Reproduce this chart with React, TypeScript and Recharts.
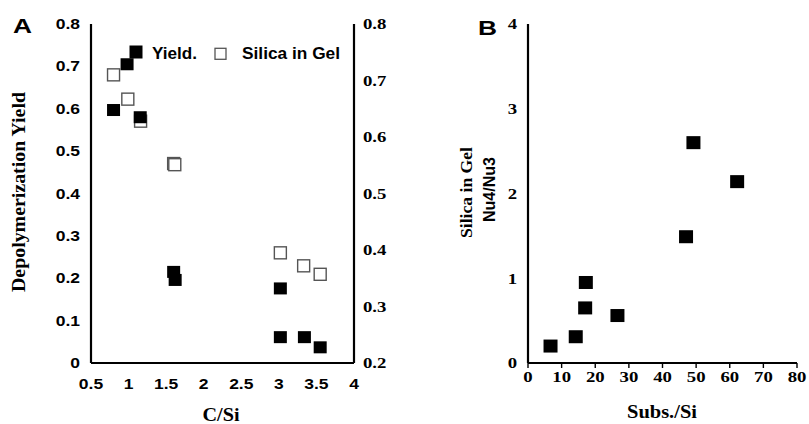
import { ScatterChart, Scatter, XAxis, YAxis, Legend } from "recharts"

// panel A: C/Si vs depolymerization yield (left) and silica in gel (right)
const yieldCS = [0.8, 0.98, 1.155, 1.6, 1.62, 3.02, 3.02, 3.34, 3.55]
const yieldVal = [0.597, 0.705, 0.58, 0.215, 0.196, 0.176, 0.061, 0.061, 0.037]
const silicaCS = [0.8, 0.99, 1.16, 1.6, 1.615, 3.02, 3.33, 3.55]
const silicaVal = [0.71, 0.667, 0.628, 0.553, 0.551, 0.395, 0.372, 0.357]

// panel B: Subs./Si vs Nu4/Nu3
const subsSi = [6.7, 14.2, 17.0, 17.2, 26.6, 47.0, 49.2, 62.2]
const nuRatio = [0.2, 0.31, 0.65, 0.95, 0.56, 1.49, 2.6, 2.14]

const csTicks = [0.5, 1, 1.5, 2, 2.5, 3, 3.5, 4]
const yieldTicks = [0, 0.1, 0.2, 0.3, 0.4, 0.5, 0.6, 0.7, 0.8]
const silicaTicks = [0.2, 0.3, 0.4, 0.5, 0.6, 0.7, 0.8]
const subsTicks = [0, 10, 20, 30, 40, 50, 60, 70, 80]
const nuTicks = [0, 1, 2, 3, 4]

const ARIAL = "Liberation Sans, Arial, sans-serif"
const TIMES = "Liberation Serif, Times New Roman, serif"

const yieldData = yieldCS.map((x, i) => ({ x, y: yieldVal[i] }))
const silicaData = silicaCS.map((x, i) => ({ x, y: silicaVal[i] }))
const nuData = subsSi.map((x, i) => ({ x, y: nuRatio[i] }))

const bold = (font: string, size: number) => ({ fontFamily: font, fontWeight: 700, fontSize: size, fill: "#000" })

function tick(font: string, size: number, anchor: "start" | "middle" | "end") {
  return (props: any) => {
    const { x, y, payload } = props
    return (
      <g transform={`translate(${x},${y}) scale(1.25,1)`}>
        <text x={0} y={0} dy="0.36em" textAnchor={anchor} fontFamily={font} fontWeight={700} fontSize={size} fill="#000" style={bold(font, size)}>
          {String(payload.value)}
        </text>
      </g>
    )
  }
}

const filledA = (p: any) => <rect x={p.cx - 6.5} y={p.cy - 6} width={13} height={12} fill="#000" />
const openA = (p: any) => <rect x={p.cx - 6} y={p.cy - 6} width={12} height={12} fill="#fff" stroke="#555" strokeWidth={1.4} />
const filledB = (p: any) => <rect x={p.cx - 7} y={p.cy - 6.5} width={14} height={13} fill="#000" />

function LegendA() {
  return (
    <svg width={400} height={80} style={{ display: "block" }}>
      <rect x={129.5} y={45.5} width={13} height={13} fill="#000" />
      <text x={152} y={58.5} style={bold(ARIAL, 16)} textLength={45} lengthAdjust="spacingAndGlyphs">Yield.</text>
      <rect x={215} y={48.3} width={11} height={11} fill="#fff" stroke="#555" strokeWidth={1.3} />
      <text x={242} y={58.5} style={bold(ARIAL, 16)} textLength={98} lengthAdjust="spacingAndGlyphs">Silica in Gel</text>
    </svg>
  )
}

const boxLine = { stroke: "#000", strokeWidth: 2.2 }
const greyLine = { stroke: "#333", strokeWidth: 2 }

export default function App() {
  return (
    <div style={{ position: "absolute", left: 0, top: 0, width: 809, height: 424, background: "#fff", overflow: "hidden" }}>
      <div style={{ position: "absolute", left: 0, top: 0 }}>
        <ScatterChart width={400} height={424} margin={{ top: 24, right: 6, bottom: 31, left: 41 }}>
          <XAxis type="number" dataKey="x" domain={[0.5, 4]} ticks={csTicks} allowDataOverflow height={30}
            axisLine={boxLine} tickLine={false} tickSize={0} tickMargin={21}
            tick={tick(ARIAL, 14, "middle")} />
          <XAxis xAxisId="top" orientation="top" type="number" domain={[0.5, 4]} height={0}
            axisLine={boxLine} tickLine={false} tick={false} />
          <YAxis yAxisId="left" type="number" dataKey="y" domain={[0, 0.8]} ticks={yieldTicks} width={50}
            axisLine={boxLine} tickLine={false} tickSize={0} tickMargin={11}
            tick={tick(ARIAL, 14, "end")} />
          <YAxis yAxisId="right" orientation="right" type="number" dataKey="y" domain={[0.2, 0.8]} ticks={silicaTicks} width={40}
            axisLine={boxLine} tickLine={false} tickSize={0} tickMargin={9}
            tick={tick(TIMES, 15, "start")} />
          <Scatter yAxisId="right" data={silicaData} shape={openA} isAnimationActive={false} />
          <Scatter yAxisId="left" data={yieldData} shape={filledA} isAnimationActive={false} />
          <Legend layout="horizontal" verticalAlign="middle" align="center" content={() => <LegendA />}
            wrapperStyle={{ left: 0, top: 0, width: 400, height: 80 }} />
        </ScatterChart>
      </div>
      <div style={{ position: "absolute", left: 400, top: 0 }}>
        <ScatterChart width={409} height={424} margin={{ top: 24, right: 12, bottom: 31, left: 88 }}>
          <XAxis type="number" dataKey="x" domain={[0, 80]} ticks={subsTicks} allowDataOverflow height={30}
            axisLine={boxLine} tickLine={{ stroke: "#000", strokeWidth: 1.4 }} tickSize={5} tickMargin={9}
            tick={tick(TIMES, 15, "middle")} />
          <XAxis xAxisId="top" orientation="top" type="number" domain={[0, 80]} height={0}
            axisLine={greyLine} tickLine={false} tick={false} />
          <YAxis type="number" dataKey="y" domain={[0, 4]} ticks={nuTicks} width={40}
            axisLine={boxLine} tickLine={false} tickSize={0} tickMargin={11}
            tick={tick(TIMES, 15, "end")} />
          <YAxis yAxisId="edge" orientation="right" type="number" domain={[0, 4]} width={0}
            axisLine={greyLine} tickLine={false} tick={false} />
          <Scatter data={nuData} shape={filledB} isAnimationActive={false} />
        </ScatterChart>
      </div>
      <svg width={809} height={424} style={{ position: "absolute", left: 0, top: 0, pointerEvents: "none" }}>
        <text x={13} y={33} style={bold(ARIAL, 21)} textLength={19} lengthAdjust="spacingAndGlyphs">A</text>
        <text x={478} y={35} style={bold(ARIAL, 21)} textLength={19} lengthAdjust="spacingAndGlyphs">B</text>
        <text transform="translate(25,192) rotate(-90)" textAnchor="middle" style={bold(TIMES, 18)} textLength={200} lengthAdjust="spacingAndGlyphs">Depolymerization Yield</text>
        <text x={221} y={421} textAnchor="middle" style={bold(TIMES, 19)} textLength={37} lengthAdjust="spacingAndGlyphs">C/Si</text>
        <text x={662} y={418} textAnchor="middle" style={bold(TIMES, 19)} textLength={70} lengthAdjust="spacingAndGlyphs">Subs./Si</text>
        <text transform="translate(472,192.5) rotate(-90)" textAnchor="middle" style={bold(TIMES, 17)} textLength={91} lengthAdjust="spacingAndGlyphs">Silica in Gel</text>
        <text transform="translate(495,189.5) rotate(-90)" textAnchor="middle" style={bold(ARIAL, 16)} textLength={65} lengthAdjust="spacingAndGlyphs">Nu4/Nu3</text>
      </svg>
    </div>
  )
}
